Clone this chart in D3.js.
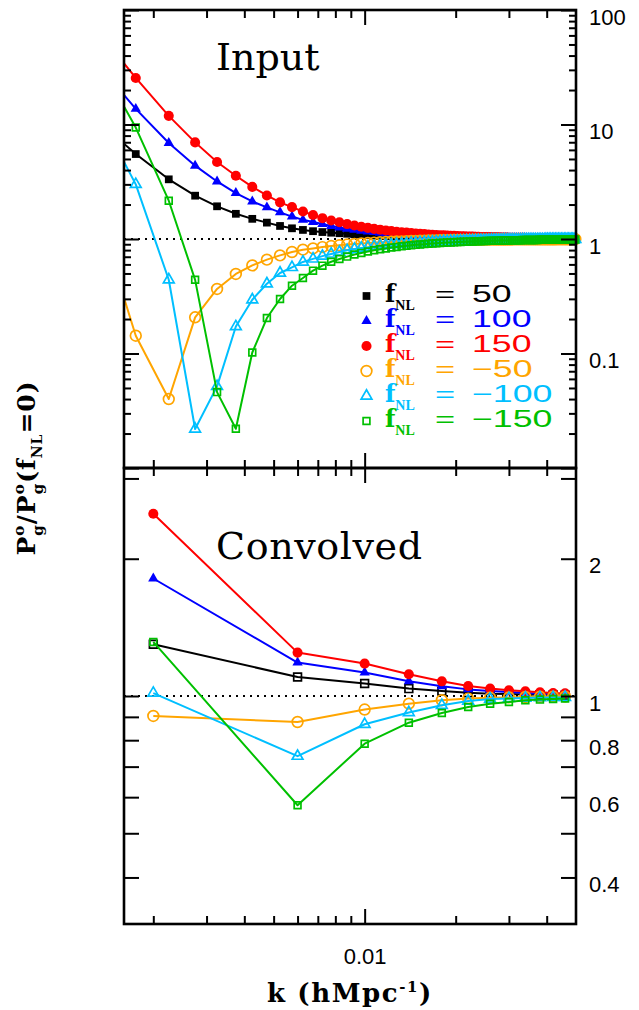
<!DOCTYPE html>
<html>
<head>
<meta charset="utf-8">
<script src="https://cdn.jsdelivr.net/npm/d3@7"></script>
<style>
  body { margin: 0; background: #fff; }
  svg { display: block; }
</style>
</head>
<body>
<svg id="chart" width="639" height="1010"></svg>
<script>
// ---- data: "Input" panel (k grid in h/Mpc, ratio P(fNL)/P(0)) ----
const kInput = [
  0.00125,0.00175,0.00225,0.00275,0.00325,0.00375,0.00425,0.00475,0.00525,0.00575,
  0.00625,0.00675,0.00725,0.00775,0.00825,0.00875,0.00925,0.00975,0.01025,0.01075,
  0.01125,0.01175,0.01225,0.01275,0.01325,0.01375,0.01425,0.01475,0.01525,0.01575,
  0.01625,0.01675,0.01725,0.01775,0.01825,0.01875,0.01925,0.01975,0.02025,0.02075,
  0.02125,0.02175,0.02225,0.02275,0.02325,0.02375,0.02425,0.02475,0.02525,0.02575,
  0.02625,0.02675,0.02725,0.02775,0.02825,0.02875,0.02925,0.02975,0.03025,0.03075,
  0.03125,0.03175,0.03225,0.03275,0.03325,0.03375,0.03425,0.03475,0.03525,0.03575,
  0.03625,0.03675,0.03725,0.03775,0.03825,0.03875,0.03925,0.03975,0.04025,0.04075,
  0.04125,0.04175,0.04225,0.04275,0.04325,0.04375,0.04425,0.04475,0.04525,0.04575,
  0.04625,0.04675,0.04725,0.04775,0.04825,0.04875,0.04925,0.04975
];
const inputP50 = [
  12.0,5.52,3.32,2.39,1.93,1.66,1.50,1.39,1.30,1.24,
  1.20,1.17,1.15,1.135,1.123,1.111,1.099,1.089,1.080,1.073,
  1.066,1.061,1.056,1.051,1.048,1.044,1.041,1.038,1.036,1.034,
  1.032,1.030,1.028,1.026,1.025,1.024,1.023,1.021,1.020,1.019,
  1.018,1.017,1.017,1.016,1.015,1.015,1.014,1.014,1.013,1.012,
  1.012,1.012,1.011,1.011,1.010,1.010,1.010,1.009,1.009,1.009,
  1.008,1.008,1.008,1.008,1.007,1.007,1.007,1.007,1.007,1.006,
  1.006,1.006,1.006,1.006,1.006,1.006,1.005,1.005,1.005,1.005,
  1.005,1.005,1.005,1.005,1.004,1.004,1.004,1.004,1.004,1.004,
  1.004,1.004,1.004,1.004,1.004,1.003,1.003,1.003
];
const inputP100 = [
  39,13.7,6.89,4.37,3.18,2.52,2.13,1.89,1.71,1.57,
  1.47,1.41,1.35,1.30,1.26,1.228,1.203,1.182,1.163,1.148,
  1.135,1.124,1.113,1.104,1.096,1.090,1.083,1.077,1.072,1.068,
  1.064,1.060,1.056,1.053,1.050,1.048,1.045,1.043,1.041,1.039,
  1.037,1.035,1.034,1.032,1.031,1.029,1.028,1.027,1.026,1.025,
  1.024,1.023,1.023,1.022,1.021,1.020,1.019,1.019,1.018,1.018,
  1.017,1.016,1.016,1.016,1.015,1.014,1.014,1.014,1.013,1.013,
  1.012,1.012,1.012,1.012,1.011,1.011,1.011,1.010,1.010,1.010,
  1.010,1.010,1.009,1.009,1.009,1.009,1.008,1.008,1.008,1.008,
  1.008,1.008,1.008,1.007,1.007,1.007,1.007,1.007
];
const inputP150 = [
  77,25.5,11.9,6.98,4.70,3.57,2.85,2.40,2.09,1.90,
  1.74,1.62,1.52,1.45,1.40,1.350,1.311,1.278,1.250,1.226,
  1.206,1.188,1.172,1.158,1.146,1.136,1.126,1.117,1.110,1.103,
  1.096,1.090,1.085,1.080,1.076,1.072,1.068,1.065,1.062,1.058,
  1.056,1.053,1.051,1.049,1.047,1.044,1.042,1.041,1.039,1.038,
  1.036,1.035,1.034,1.033,1.031,1.030,1.029,1.028,1.027,1.027,
  1.025,1.025,1.024,1.023,1.022,1.022,1.021,1.020,1.020,1.019,
  1.019,1.019,1.018,1.017,1.017,1.017,1.016,1.016,1.016,1.015,
  1.014,1.014,1.014,1.014,1.013,1.013,1.013,1.013,1.012,1.012,
  1.011,1.011,1.011,1.011,1.011,1.010,1.010,1.010
];
const inputM50 = [
  2.5,0.143,0.040,0.207,0.366,0.495,0.588,0.660,0.719,0.770,
  0.807,0.828,0.850,0.868,0.882,0.895,0.906,0.915,0.923,0.930,
  0.936,0.941,0.946,0.950,0.954,0.957,0.960,0.962,0.965,0.967,
  0.969,0.971,0.972,0.974,0.975,0.977,0.978,0.979,0.980,0.981,
  0.982,0.983,0.983,0.984,0.985,0.985,0.986,0.986,0.987,0.988,
  0.988,0.988,0.989,0.989,0.990,0.990,0.990,0.991,0.991,0.991,
  0.992,0.992,0.992,0.992,0.993,0.993,0.993,0.993,0.993,0.994,
  0.994,0.994,0.994,0.994,0.994,0.994,0.995,0.995,0.995,0.995,
  0.995,0.995,0.995,0.995,0.996,0.996,0.996,0.996,0.996,0.996,
  0.996,0.996,0.996,0.996,0.996,0.997,0.997,0.997
];
const inputM100 = [
  16.5,3.0,0.441,0.0219,0.0516,0.172,0.295,0.407,0.505,0.565,
  0.630,0.670,0.709,0.741,0.769,0.796,0.816,0.834,0.849,0.862,
  0.873,0.884,0.893,0.901,0.908,0.914,0.920,0.925,0.930,0.934,
  0.938,0.942,0.945,0.948,0.951,0.953,0.956,0.958,0.960,0.962,
  0.964,0.965,0.967,0.968,0.969,0.971,0.972,0.973,0.974,0.975,
  0.976,0.977,0.978,0.978,0.979,0.980,0.981,0.981,0.982,0.982,
  0.983,0.984,0.984,0.984,0.985,0.986,0.986,0.986,0.987,0.987,
  0.988,0.988,0.988,0.988,0.989,0.989,0.989,0.990,0.990,0.990,
  0.990,0.990,0.991,0.991,0.991,0.991,0.992,0.992,0.992,0.992,
  0.992,0.992,0.992,0.993,0.993,0.993,0.993,0.993
];
const inputM150 = [
  46,9.4,2.16,0.44,0.046,0.022,0.102,0.204,0.299,0.391,
  0.456,0.529,0.585,0.633,0.668,0.702,0.731,0.756,0.778,0.797,
  0.813,0.828,0.842,0.853,0.864,0.873,0.881,0.889,0.896,0.902,
  0.908,0.914,0.918,0.923,0.927,0.930,0.934,0.937,0.940,0.943,
  0.945,0.948,0.950,0.952,0.954,0.957,0.958,0.960,0.961,0.963,
  0.964,0.965,0.967,0.968,0.969,0.970,0.971,0.972,0.973,0.974,
  0.975,0.976,0.976,0.977,0.978,0.979,0.979,0.980,0.980,0.981,
  0.981,0.981,0.982,0.983,0.983,0.983,0.984,0.984,0.984,0.985,
  0.986,0.986,0.986,0.986,0.987,0.987,0.987,0.987,0.988,0.988,
  0.989,0.989,0.989,0.989,0.989,0.990,0.990,0.990
];

// ---- data: "Convolved" panel ----
const kConv = [0.002,0.006,0.010,0.014,0.018,0.022,0.026,0.030,0.034,0.038,0.042,0.046];
const convP50  = [1.298,1.101,1.065,1.038,1.025,1.017,1.012,1.010,1.008,1.006,1.005,1.004];
const convP100 = [1.81,1.184,1.126,1.077,1.050,1.034,1.025,1.020,1.015,1.012,1.010,1.008];
const convP150 = [2.51,1.245,1.178,1.116,1.077,1.052,1.038,1.029,1.024,1.019,1.015,1.014];
const convM50  = [0.904,0.877,0.934,0.962,0.979,0.987,0.991,0.993,0.995,0.996,0.997,0.997];
const convM100 = [1.015,0.738,0.867,0.920,0.954,0.975,0.985,0.988,0.990,0.992,0.993,0.994];
const convM150 = [1.314,0.576,0.786,0.874,0.918,0.946,0.962,0.970,0.979,0.982,0.985,0.988];

const fnlLabels = ["50", "100", "150", "\u221250", "\u2212100", "\u2212150"];

// ticks
const xMinorTicks = [0.002,0.003,0.004,0.005,0.006,0.007,0.008,0.009,0.02,0.03,0.04];
const xMajorTicks = [0.01];
const yTopMajor = [0.01, 0.1, 1, 10, 100];
const yTopMinor = [0.02,0.03,0.04,0.05,0.06,0.07,0.08,0.09,
                   0.2,0.3,0.4,0.5,0.6,0.7,0.8,0.9,
                   2,3,4,5,6,7,8,9, 20,30,40,50,60,70,80,90];
const yTopLabels = [0.1, 1, 10, 100];
const yBotTicks = [0.4,0.5,0.6,0.7,0.8,0.9,1,2,3];
const yBotLabels = [0.4, 0.6, 0.8, 1, 2];

// ---- styles per series ----
const styles = [
  {color: "#000000", shape: d3.symbolSquare,   size: 60, openTop: false, openBot: true},
  {color: "#0000ff", shape: d3.symbolTriangle, size: 46, openTop: false, openBot: false},
  {color: "#ff0000", shape: d3.symbolCircle,   size: 80, openTop: false, openBot: false},
  {color: "#ffa500", shape: d3.symbolCircle,   size: 90, openTop: true,  openBot: true},
  {color: "#00bfff", shape: d3.symbolTriangle, size: 50, openTop: true,  openBot: true},
  {color: "#00c000", shape: d3.symbolSquare,   size: 46, openTop: true,  openBot: true}
];
const inputSeries = [inputP50, inputP100, inputP150, inputM50, inputM100, inputM150];
const convSeries = [convP50, convP100, convP150, convM50, convM100, convM150];

const L = 124, R = 576, T = 10, M = 468, B = 924;
const svg = d3.select("#chart");

const x = d3.scaleLog().domain([0.0016, 0.05]).range([L, R]);
const yTop = d3.scaleLog().domain([0.01, 100]).range([M, T]);
const yBot = d3.scaleLog().domain([Math.pow(10, -0.5), Math.pow(10, 0.5)]).range([B, M]);

const defs = svg.append("defs");
defs.append("clipPath").attr("id", "clipTop")
  .append("rect").attr("x", L).attr("y", T).attr("width", R - L).attr("height", M - T);
defs.append("clipPath").attr("id", "clipBot")
  .append("rect").attr("x", L).attr("y", M).attr("width", R - L).attr("height", B - M);

const tickFont = "'Liberation Sans', Arial, Helvetica, sans-serif";
const serifFont = "'DejaVu Serif', 'Liberation Serif', serif";

// dotted line at ratio = 1
function unityLine(yScale) {
  svg.append("line")
    .attr("x1", L).attr("x2", R)
    .attr("y1", yScale(1)).attr("y2", yScale(1))
    .attr("stroke", "#000").attr("stroke-width", 2)
    .attr("stroke-dasharray", "2,5");
}
unityLine(yTop);
unityLine(yBot);

function drawPanel(kArr, seriesArr, yScale, clipId, openKey) {
  seriesArr.forEach((vals, si) => {
    const st = styles[si];
    const pts = kArr.map((k, i) => ({k: k, v: vals[i]}));
    const line = d3.line().x(d => x(d.k)).y(d => yScale(d.v));
    svg.append("path")
      .datum(pts)
      .attr("clip-path", `url(#${clipId})`)
      .attr("fill", "none")
      .attr("stroke", st.color)
      .attr("stroke-width", 2)
      .attr("stroke-linejoin", "round")
      .attr("d", line);
    const open = st[openKey];
    svg.append("g").selectAll("path")
      .data(pts.filter(d => d.k >= x.domain()[0] && d.k <= x.domain()[1]))
      .join("path")
      .attr("transform", d => `translate(${x(d.k)},${yScale(d.v)})`)
      .attr("d", d3.symbol().type(st.shape).size(st.size))
      .attr("fill", open ? "none" : st.color)
      .attr("stroke", open ? st.color : "none")
      .attr("stroke-width", 1.7);
  });
}
drawPanel(kInput, inputSeries, yTop, "clipTop", "openTop");
drawPanel(kConv, convSeries, yBot, "clipBot", "openBot");

// ---- axes (ticks inward on all sides) ----
function addAxis(axis, tx, ty) {
  const g = svg.append("g").attr("transform", `translate(${tx},${ty})`).call(axis);
  g.select(".domain").remove();
  g.selectAll(".tick line").attr("stroke", "#000").attr("stroke-width", 2);
  return g;
}
[[T, "top"], [M, "bottom"], [M, "top"], [B, "bottom"]].forEach(([yy, side]) => {
  const mk = side === "top" ? d3.axisTop : d3.axisBottom;
  addAxis(mk(x).tickValues(xMinorTicks).tickSize(-8).tickFormat(""), 0, yy);
  addAxis(mk(x).tickValues(xMajorTicks).tickSize(-15).tickFormat(""), 0, yy);
});
// x label 0.01 at the bottom
const xl = addAxis(d3.axisBottom(x).tickValues(xMajorTicks).tickSize(0).tickPadding(24)
  .tickFormat(d3.format(".2f")), 0, B);
xl.selectAll("text").attr("font-family", tickFont).attr("font-size", 22).attr("fill", "#000");

// top panel y
addAxis(d3.axisLeft(yTop).tickValues(yTopMinor).tickSize(-7).tickFormat(""), L, 0);
addAxis(d3.axisLeft(yTop).tickValues(yTopMajor).tickSize(-15).tickFormat(""), L, 0);
addAxis(d3.axisRight(yTop).tickValues(yTopMinor).tickSize(-7).tickFormat(""), R, 0);
addAxis(d3.axisRight(yTop).tickValues(yTopMajor).tickSize(-15).tickFormat(""), R, 0);
const ytl = addAxis(d3.axisRight(yTop).tickValues(yTopLabels).tickSize(0).tickPadding(13)
  .tickFormat(d => d < 1 ? d3.format(".1f")(d) : d3.format("d")(d)), R, 0);
ytl.selectAll("text").attr("font-family", tickFont).attr("font-size", 22)
  .attr("fill", "#000").attr("dy", "0.64em");

// bottom panel y
addAxis(d3.axisLeft(yBot).tickValues(yBotTicks).tickSize(-15).tickFormat(""), L, 0);
addAxis(d3.axisRight(yBot).tickValues(yBotTicks).tickSize(-15).tickFormat(""), R, 0);
const ybl = addAxis(d3.axisRight(yBot).tickValues(yBotLabels).tickSize(0).tickPadding(13)
  .tickFormat(d => d < 1 ? d3.format(".1f")(d) : d3.format("d")(d)), R, 0);
ybl.selectAll("text").attr("font-family", tickFont).attr("font-size", 22)
  .attr("fill", "#000").attr("dy", "0.64em");

// frames
[[T, M], [M, B]].forEach(([a, b]) => {
  svg.append("rect").attr("x", L).attr("y", a).attr("width", R - L).attr("height", b - a)
    .attr("fill", "none").attr("stroke", "#000").attr("stroke-width", 2.6);
});

// panel titles
svg.append("text").attr("x", 216).attr("y", 70).attr("font-family", serifFont)
  .attr("font-size", 38).attr("fill", "#000").text("Input");
svg.append("text").attr("x", 216).attr("y", 559).attr("font-family", serifFont)
  .attr("font-size", 38).attr("letter-spacing", 0.6).attr("fill", "#000").text("Convolved");

// legend
fnlLabels.forEach((lab, i) => {
  const st = styles[i];
  const yb = 302 + 25 * i;
  svg.append("path")
    .attr("transform", `translate(366.5,${yb - 6})`)
    .attr("d", d3.symbol().type(st.shape).size(st.size))
    .attr("fill", st.openTop ? "none" : st.color)
    .attr("stroke", st.openTop ? st.color : "none")
    .attr("stroke-width", 1.7);
  const f = svg.append("text").attr("x", 385).attr("y", yb)
    .attr("font-family", serifFont).attr("font-weight", "bold").attr("fill", st.color);
  f.append("tspan").attr("font-size", 24).text("f");
  f.append("tspan").attr("font-family", "'Liberation Serif', serif")
    .attr("font-size", 14).attr("dy", 8).text("NL");
  svg.append("g").attr("transform", `translate(435,${yb}) scale(1.5,1)`)
    .append("text").attr("font-family", tickFont).attr("font-size", 23)
    .attr("fill", st.color).text("=");
  svg.append("g").attr("transform", `translate(472,${yb}) scale(1.55,1)`)
    .append("text").attr("font-family", tickFont).attr("font-size", 23)
    .attr("fill", st.color).text(lab);
});

// axis titles
const xt = svg.append("text").attr("x", 350).attr("y", 1002).attr("text-anchor", "middle")
  .attr("font-family", serifFont).attr("font-weight", "bold").attr("font-size", 26)
  .attr("letter-spacing", 1.6).attr("fill", "#000");
xt.append("tspan").text("k (hMpc");
xt.append("tspan").attr("font-size", 15).attr("dy", -10).text("-1");
xt.append("tspan").attr("dy", 10).text(")");

const yt = svg.append("text").attr("transform", "translate(35,468) rotate(-90)")
  .attr("text-anchor", "middle").attr("font-family", serifFont)
  .attr("font-weight", "bold").attr("font-size", 25).attr("letter-spacing", 1)
  .attr("fill", "#000");
yt.append("tspan").text("P");
yt.append("tspan").attr("font-size", 15).attr("dy", -11).text("o");
yt.append("tspan").attr("font-size", 15).attr("dx", -11).attr("dy", 19).text("g");
yt.append("tspan").attr("dy", -8).text("/P");
yt.append("tspan").attr("font-size", 15).attr("dy", -11).text("o");
yt.append("tspan").attr("font-size", 15).attr("dx", -11).attr("dy", 19).text("g");
yt.append("tspan").attr("dy", -8).text("(f");
yt.append("tspan").attr("font-size", 14).attr("dy", 7).text("NL");
yt.append("tspan").attr("dy", -7).text("=0)");
</script>
</body>
</html>
